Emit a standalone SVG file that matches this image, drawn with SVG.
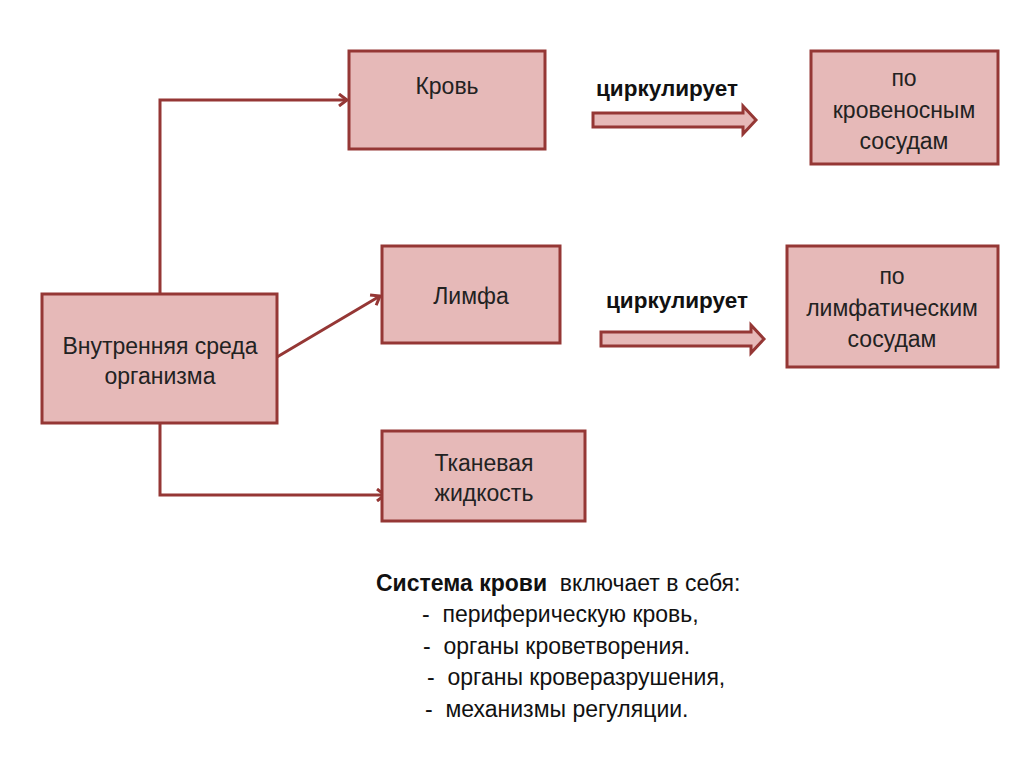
<svg xmlns="http://www.w3.org/2000/svg" width="1024" height="767" viewBox="0 0 1024 767">
<defs>
<style>
.box{fill:#e6b9b8;stroke:#953735;stroke-width:3}
.t{font-family:"Liberation Sans",Arial,sans-serif;font-size:23px;fill:#222;text-anchor:middle}
.b{font-family:"Liberation Sans",Arial,sans-serif;font-size:22.5px;font-weight:bold;fill:#111;text-anchor:middle}
.s{font-family:"Liberation Sans",Arial,sans-serif;font-size:23px;fill:#111;white-space:pre}
.c{fill:none;stroke:#953735;stroke-width:3}
.blk{fill:#e6b9b8;stroke:#953735;stroke-width:3;stroke-linejoin:miter}
</style>
<marker id="ah" markerWidth="14" markerHeight="14" refX="10" refY="7" orient="auto" markerUnits="userSpaceOnUse">
<path d="M2,1 L10,7 L2,13" fill="none" stroke="#953735" stroke-width="3"/>
</marker>
</defs>
<rect width="1024" height="767" fill="#ffffff"/>
<g id="connectors">
<path class="c" d="M160,294 V100 H347" marker-end="url(#ah)"/>
<path class="c" d="M277,357 L380,296" marker-end="url(#ah)"/>
<path class="c" d="M160,423 V495 H385" marker-end="url(#ah)"/>
<path class="blk" d="M593,113 H743 V106 L756,120 L743,134 V127 H593 Z"/>
<path class="blk" d="M601,332 H751 V325 L764,339 L751,353 V346 H601 Z"/>
</g>
<g id="node-main">
<rect class="box" x="42" y="294" width="235" height="129"/>
<text class="t" x="160" y="354">Внутренняя среда</text>
<text class="t" x="160" y="384">организма</text>
</g>
<g id="node-blood">
<rect class="box" x="349" y="51" width="196" height="98"/>
<text class="t" x="447" y="94">Кровь</text>
</g>
<g id="node-lymph">
<rect class="box" x="382" y="246" width="178" height="97"/>
<text class="t" x="471" y="304">Лимфа</text>
</g>
<g id="node-tissue">
<rect class="box" x="382" y="431" width="203" height="90"/>
<text class="t" x="484" y="471">Тканевая</text>
<text class="t" x="484" y="501">жидкость</text>
</g>
<g id="node-vessels">
<rect class="box" x="811" y="51" width="187" height="113"/>
<text class="t" x="904" y="86">по</text>
<text class="t" x="904" y="118">кровеносным</text>
<text class="t" x="904" y="149">сосудам</text>
</g>
<g id="node-lymphvessels">
<rect class="box" x="787" y="246" width="211" height="121"/>
<text class="t" x="892" y="284">по</text>
<text class="t" x="892" y="316">лимфатическим</text>
<text class="t" x="892" y="347">сосудам</text>
</g>
<g id="labels">
<text class="b" x="667" y="96">циркулирует</text>
<text class="b" x="677" y="308">циркулирует</text>
</g>
<g id="notes">
<text class="s" xml:space="preserve" x="376" y="591"><tspan font-weight="bold">Система крови</tspan>  включает в себя:</text>
<text class="s" xml:space="preserve" x="422" y="622">-  периферическую кровь,</text>
<text class="s" xml:space="preserve" x="423" y="654">-  органы кроветворения.</text>
<text class="s" xml:space="preserve" x="427" y="685">-  органы кроверазрушения,</text>
<text class="s" xml:space="preserve" x="425" y="717">-  механизмы регуляции.</text>
</g>
</svg>
